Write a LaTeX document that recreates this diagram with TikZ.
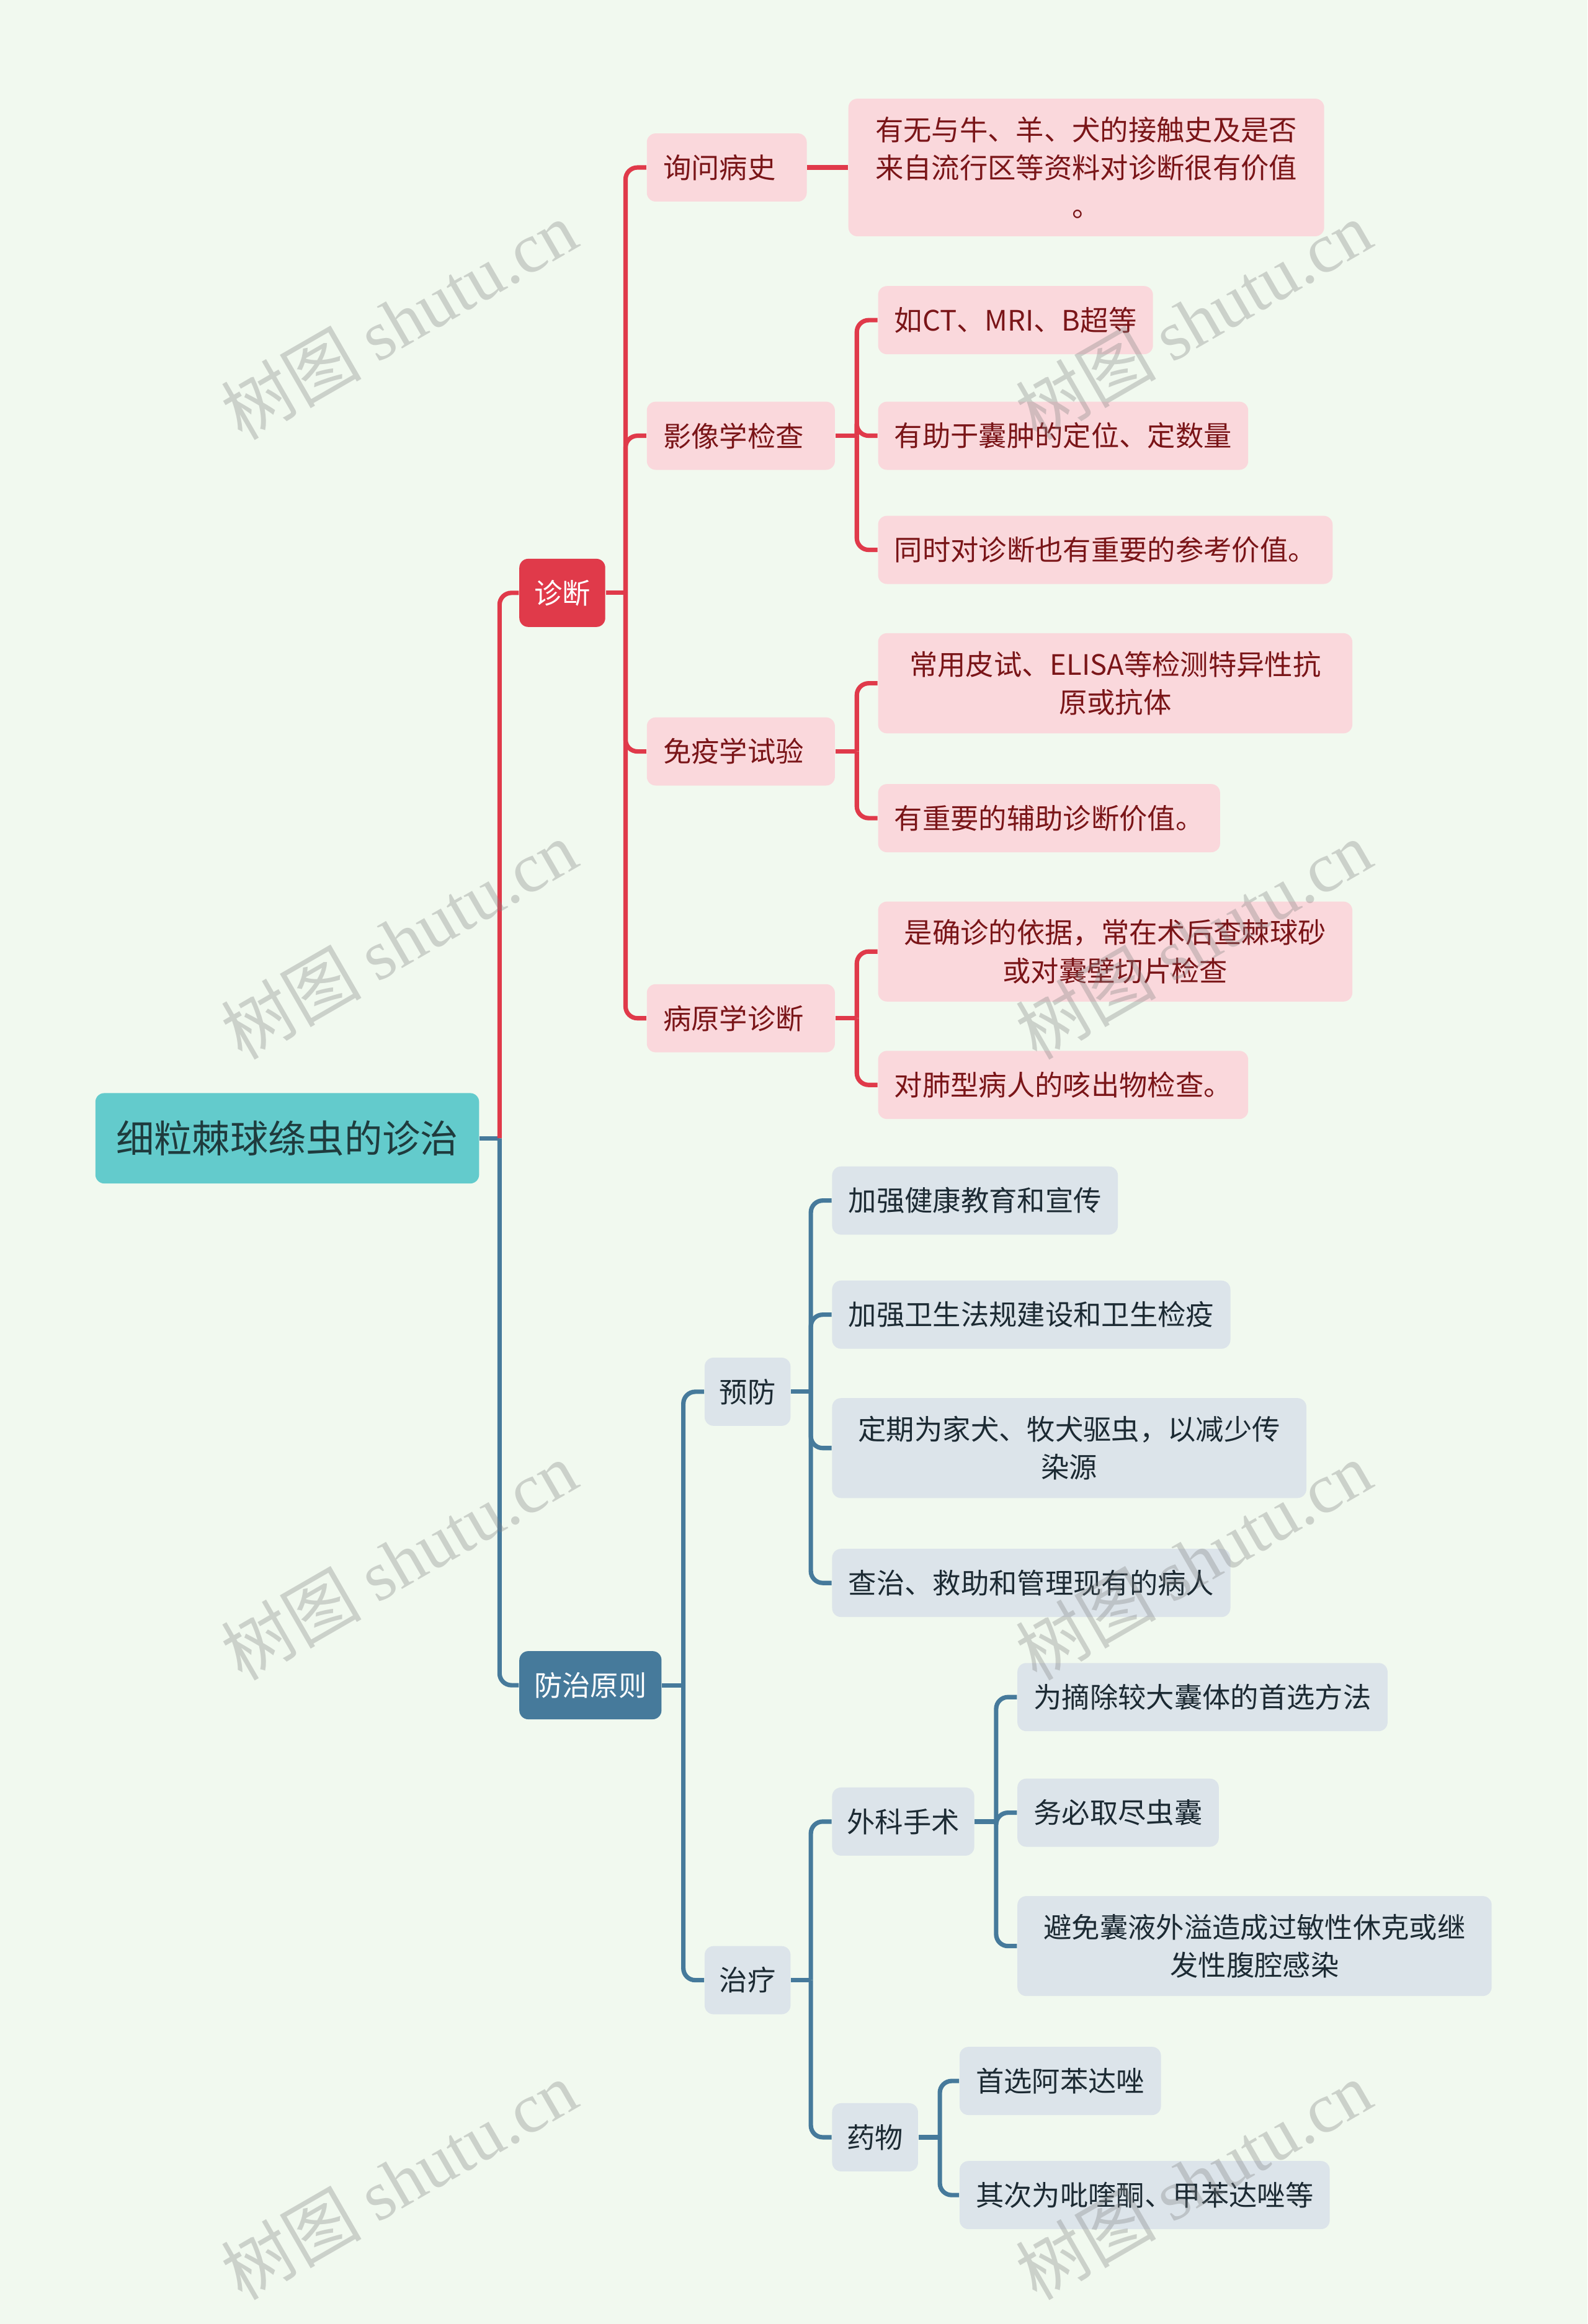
\documentclass[tikz,border=0pt]{standalone}
\usepackage{fontspec}
\setmainfont{Noto Sans CJK SC}
\newfontfamily\wmserif{Liberation Serif}
\usetikzlibrary{positioning}
\definecolor{bgmint}{HTML}{F1F9EF}
\definecolor{rootteal}{HTML}{63CBCC}
\definecolor{roottext}{HTML}{1F3B3D}
\definecolor{diagred}{HTML}{E03A4A}
\definecolor{diagpink}{HTML}{FAD8DC}
\definecolor{diagtext}{HTML}{7A1518}
\definecolor{curblue}{HTML}{467A9B}
\definecolor{curpale}{HTML}{DCE4EA}
\definecolor{curtext}{HTML}{1C2A33}

\tikzset{
  basebox/.style={rounded corners=0.12cm, anchor=west, minimum height=0.92cm, inner ysep=0.24cm, align=center, font=\fontsize{10.8}{14.7}\selectfont},
  rootbox/.style={basebox, fill=rootteal, text=roottext, inner xsep=0.28cm, minimum height=1.22cm, font=\fontsize{14.6}{18}\selectfont},
  diaghead/.style={basebox, fill=diagred, text=white, inner xsep=0.2cm},
  diagmid/.style={basebox, fill=diagpink, text=diagtext, inner xsep=0.22cm},
  diagleaf/.style={basebox, fill=diagpink, text=diagtext, inner xsep=0.22cm},
  curhead/.style={basebox, fill=curblue, text=white, inner xsep=0.2cm},
  curmid/.style={basebox, fill=curpale, text=curtext, inner xsep=0.2cm},
  curleaf/.style={basebox, fill=curpale, text=curtext, inner xsep=0.22cm},
  redlink/.style={draw=diagred, line width=1.7pt, rounded corners=0.16cm},
  bluelink/.style={draw=curblue, line width=1.7pt, rounded corners=0.16cm},
  watermark/.style={text=black!50, text opacity=0.33, rotate=30, font=\fontsize{27}{27}\selectfont}
}
\newcommand\padr[1]{#1\kern0.2cm}

\begin{document}
\begin{tikzpicture}[x=0.02cm, y=-0.02cm]
% Background
\fill[bgmint] (0,0) rectangle (1071,1568);
\useasboundingbox (0,0) rectangle (1071,1568);

% Root
\node[rootbox] (root) at (64,768) {细粒棘球绦虫的诊治};

% Main branches
\node[diaghead] (diag) at (350,400) {诊断};
\node[curhead] (cure) at (350,1137) {防治原则};

% Diagnosis
\node[diagmid] (xwbs) at (436,113) {\padr{询问病史}};
\node[diagmid] (yxjc) at (436,294) {\padr{影像学检查}};
\node[diagmid] (myxsy) at (436,507) {\padr{免疫学试验}};
\node[diagmid] (byxzd) at (436,687) {\padr{病原学诊断}};

\node[diagmid, minimum width=6.42cm] (xwbsa) at (572,113) {有无与牛、羊、犬的接触史及是否\\来自流行区等资料对诊断很有价值\\。};

\node[diagleaf] (yxjca) at (592,216) {如CT、MRI、B超等};
\node[diagleaf] (yxjcb) at (592,294) {有助于囊肿的定位、定数量};
\node[diagleaf] (yxjcc) at (592,371) {同时对诊断也有重要的参考价值。};

\node[diagleaf, minimum width=6.4cm] (myxsya) at (592,461) {常用皮试、ELISA等检测特异性抗\\原或抗体};
\node[diagleaf] (myxsyb) at (592,552) {有重要的辅助诊断价值。};

\node[diagleaf, minimum width=6.4cm] (byxzda) at (592,642) {是确诊的依据，常在术后查棘球砂\\或对囊壁切片检查};
\node[diagleaf] (byxzdb) at (592,732) {对肺型病人的咳出物检查。};

% Prevention and treatment
\node[curmid] (yf) at (475,939) {预防};
\node[curmid] (zl) at (475,1336) {治疗};

\node[curleaf] (yfa) at (561,810) {加强健康教育和宣传};
\node[curleaf] (yfb) at (561,887) {加强卫生法规建设和卫生检疫};
\node[curleaf, minimum width=6.4cm] (yfc) at (561,977) {定期为家犬、牧犬驱虫，以减少传\\染源};
\node[curleaf] (yfd) at (561,1068) {查治、救助和管理现有的病人};

\node[curmid] (wkss) at (561,1229) {外科手术};
\node[curmid] (yw) at (561,1442) {药物};

\node[curleaf] (wkssa) at (686,1145) {为摘除较大囊体的首选方法};
\node[curleaf] (wkssb) at (686,1223) {务必取尽虫囊};
\node[curleaf, minimum width=6.4cm] (wkssc) at (686,1313) {避免囊液外溢造成过敏性休克或继\\发性腹腔感染};

\node[curleaf] (ywa) at (647,1404) {首选阿苯达唑};
\node[curleaf] (ywb) at (647,1481) {其次为吡喹酮、甲苯达唑等};

% Junctions
\coordinate (rootj) at (337,768);
\coordinate (diagj) at (422,400);
\coordinate (yxjcj) at (578,294);
\coordinate (myxsyj) at (578,507);
\coordinate (byxzdj) at (578,687);
\coordinate (curej) at (461,1137);
\coordinate (yfj) at (547,939);
\coordinate (zlj) at (547,1336);
\coordinate (wkssj) at (672,1229);
\coordinate (ywj) at (634,1442);

% Connectors
\draw[bluelink] (root.east) -- (rootj);
\draw[redlink] (rootj) |- (diag.west);
\draw[bluelink] (rootj) |- (cure.west);

\draw[redlink] (diag.east) -- (diagj);
\foreach \kid in {xwbs, yxjc, myxsy, byxzd}
  \draw[redlink] (diagj) |- (\kid.west);
\draw[redlink] (xwbs.east) -- (xwbsa.west);
\draw[redlink] (yxjc.east) -- (yxjcj);
\foreach \kid in {yxjca, yxjcb, yxjcc}
  \draw[redlink] (yxjcj) |- (\kid.west);
\draw[redlink] (myxsy.east) -- (myxsyj);
\foreach \kid in {myxsya, myxsyb}
  \draw[redlink] (myxsyj) |- (\kid.west);
\draw[redlink] (byxzd.east) -- (byxzdj);
\foreach \kid in {byxzda, byxzdb}
  \draw[redlink] (byxzdj) |- (\kid.west);

\draw[bluelink] (cure.east) -- (curej);
\foreach \kid in {yf, zl}
  \draw[bluelink] (curej) |- (\kid.west);
\draw[bluelink] (yf.east) -- (yfj);
\foreach \kid in {yfa, yfb, yfc, yfd}
  \draw[bluelink] (yfj) |- (\kid.west);
\draw[bluelink] (zl.east) -- (zlj);
\foreach \kid in {wkss, yw}
  \draw[bluelink] (zlj) |- (\kid.west);
\draw[bluelink] (wkss.east) -- (wkssj);
\foreach \kid in {wkssa, wkssb, wkssc}
  \draw[bluelink] (wkssj) |- (\kid.west);
\draw[bluelink] (yw.east) -- (ywj);
\foreach \kid in {ywa, ywb}
  \draw[bluelink] (ywj) |- (\kid.west);

% Watermarks
\foreach \wy [count=\wi] in {216, 634, 1053, 1471} {
  \node[watermark] (wml\wi) at (269,\wy) {树图 {\wmserif shutu.cn}};
  \node[watermark] (wmr\wi) at (805,\wy) {树图 {\wmserif shutu.cn}};
}
\end{tikzpicture}
\end{document}
